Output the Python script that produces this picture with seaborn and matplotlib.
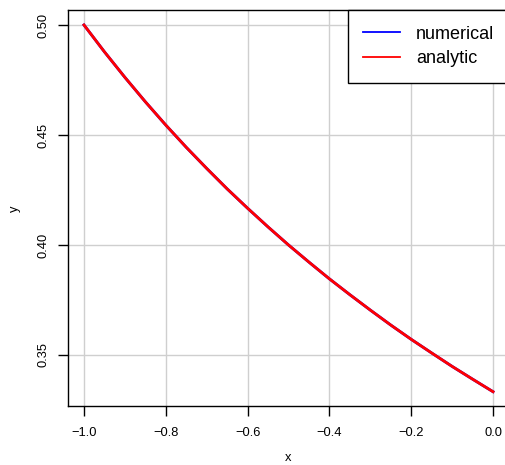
import matplotlib
matplotlib.use("Agg")
import matplotlib.pyplot as plt
import seaborn as sns
import pandas as pd
from matplotlib.lines import Line2D

x_vals = [-1.0, -0.95, -0.9, -0.85, -0.8, -0.75, -0.7, -0.65, -0.6, -0.55, -0.5,
          -0.45, -0.4, -0.35, -0.3, -0.25, -0.2, -0.15, -0.1, -0.05, 0.0]
numerical = [0.5000, 0.4878, 0.4762, 0.4651, 0.4545, 0.4444, 0.4348, 0.4255, 0.4167, 0.4082, 0.4000,
             0.3922, 0.3846, 0.3774, 0.3704, 0.3636, 0.3571, 0.3509, 0.3448, 0.3390, 0.3333]
analytic = [0.5000, 0.4878, 0.4762, 0.4651, 0.4545, 0.4444, 0.4348, 0.4255, 0.4167, 0.4082, 0.4000,
            0.3922, 0.3846, 0.3774, 0.3704, 0.3636, 0.3571, 0.3509, 0.3448, 0.3390, 0.3333]
series_names = ["numerical", "analytic"]
series_colors = ["#0000FF", "#FF0000"]
x_ticks = [-1.0, -0.8, -0.6, -0.4, -0.2, 0.0]
y_ticks = [0.35, 0.40, 0.45, 0.50]

plt.rcParams['font.family'] = ['Liberation Sans', 'DejaVu Sans']
plt.rcParams['axes.unicode_minus'] = True

df = pd.concat([
    pd.DataFrame({"x": x_vals, "y": numerical, "series": series_names[0]}),
    pd.DataFrame({"x": x_vals, "y": analytic, "series": series_names[1]}),
])

W, H = 506, 465
fig = plt.figure(figsize=(W / 100, H / 100), dpi=100)
left, right, top, bottom = 67.6, 509.4, 10.3, 406.3
ax = fig.add_axes([left / W, 1 - bottom / H, (right - left) / W, (bottom - top) / H])

ax.grid(True, color="#CFCFCF", linewidth=1.0)
ax.set_axisbelow(True)

sns.lineplot(data=df, x="x", y="y", hue="series", palette=dict(zip(series_names, series_colors)),
             linewidth=2, ax=ax, legend=False, estimator=None, sort=False)

ax.set_xlim(-1.04, 0.04)
ax.set_ylim(0.326667, 0.506667)
ax.set_xticks(x_ticks)
ax.set_xticklabels([f"{v:.1f}".replace("-", "\u2212") for v in x_ticks])
ax.set_yticks(y_ticks)
ax.set_yticklabels([f"{v:.2f}" for v in y_ticks], rotation=90, va="center")
ax.tick_params(axis="both", direction="out", length=7, width=1, labelsize=9.3, color="black")
ax.tick_params(axis="x", pad=8)
ax.tick_params(axis="y", pad=6)
for s in ax.spines.values():
    s.set_color("black")
    s.set_linewidth(1)
ax.set_xlabel("x", fontsize=9.3, labelpad=9)
ax.set_ylabel("y", fontsize=9.3, labelpad=12)

handles = [Line2D([], [], color=c, linewidth=1.3) for c in series_colors]
leg = ax.legend(handles, series_names, loc="upper right", bbox_to_anchor=(1, 1),
                borderaxespad=0, fontsize=13, frameon=True, fancybox=False,
                edgecolor="black", framealpha=1, handlelength=2.0, handletextpad=0.9,
                labelspacing=0.42, borderpad=0.85)
leg.get_frame().set_linewidth(1)

fig.savefig("out.png", dpi=100)
